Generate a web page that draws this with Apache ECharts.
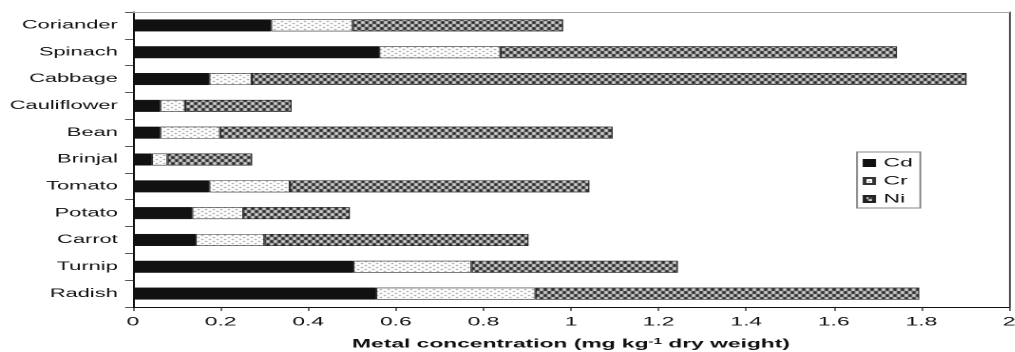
<!DOCTYPE html>
<html><head><meta charset="utf-8">
<script src="https://cdn.jsdelivr.net/npm/echarts@6/dist/echarts.min.js"></script>
<style>
html,body{margin:0;padding:0;background:#fff;overflow:hidden}
#wrap{width:1015px;height:352px;overflow:hidden;position:relative}
#chart{height:352px;transform-origin:0 0;position:absolute;left:0;top:0}
</style></head>
<body><div id="wrap"><div id="chart"></div></div>
<script>
// ---- data ----
const categories = ['Coriander','Spinach','Cabbage','Cauliflower','Bean','Brinjal','Tomato','Potato','Carrot','Turnip','Radish'];
const cdValues = [0.315, 0.562, 0.174, 0.062, 0.062, 0.043, 0.174, 0.135, 0.143, 0.503, 0.555];
const crValues = [0.187, 0.277, 0.097, 0.057, 0.137, 0.036, 0.184, 0.117, 0.157, 0.270, 0.364];
const niValues = [0.480, 0.905, 1.632, 0.243, 0.896, 0.193, 0.684, 0.243, 0.603, 0.471, 0.876];
const seriesNames = ['Cd','Cr','Ni'];
const xTickLabels = ['0','0.2','0.4','0.6','0.8','1','1.2','1.4','1.6','1.8','2'];

// ---- horizontal stretch to mimic the reference's wide glyphs ----
const K = 1.9;
const W = 1015 / K;
const el = document.getElementById('chart');
el.style.width = W + 'px';
el.style.transform = 'scaleX(' + K + ')';

function makeTile(w, h, draw) {
  const c = document.createElement('canvas');
  c.width = w; c.height = h;
  draw(c.getContext('2d'));
  return c;
}
const niTile = makeTile(4, 6, ctx => {
  ctx.fillStyle = '#2c2c2c'; ctx.fillRect(0, 0, 4, 6);
  ctx.fillStyle = '#d0d0d0'; ctx.fillRect(0, 0, 2, 3); ctx.fillRect(2, 3, 2, 3);
});
const crTile = makeTile(4, 4, ctx => {
  ctx.fillStyle = '#ffffff'; ctx.fillRect(0, 0, 4, 4);
  ctx.fillStyle = '#7a7a7a'; ctx.fillRect(0, 1, 1, 1); ctx.fillRect(2, 3, 1, 1);
});

const chart = echarts.init(el, null, {renderer: 'canvas', devicePixelRatio: 2, width: W, height: 352});
const font = "'Liberation Sans', Arial, sans-serif";

chart.setOption({
  animation: false,
  backgroundColor: '#fff',
  textStyle: {fontFamily: font},
  grid: {left: 133 / K, right: 6 / K, top: 12, bottom: 45, containLabel: false, outerBoundsMode: 'none'},
  legend: {
    orient: 'vertical',
    left: 857 / K, top: 152,
    data: seriesNames,
    icon: 'rect',
    itemWidth: 5, itemHeight: 6, itemGap: 4,
    padding: [4, 4, 2, 3],
    borderColor: '#888', borderWidth: 1,
    textStyle: {fontFamily: font, fontSize: 12, color: '#111', lineHeight: 14}
  },
  xAxis: [{
    type: 'value', min: 0, max: 2, interval: 0.2,
    splitLine: {show: false},
    axisLine: {show: true, lineStyle: {color: '#111', width: 1}},
    axisTick: {show: true, length: 4, lineStyle: {color: '#111', width: 0.6}},
    axisLabel: {margin: 9, fontSize: 12, color: '#111', fontFamily: font,
      formatter: v => xTickLabels[Math.round(v / 0.2)]},
    name: 'Metal concentration (mg kg{sup|-1} dry weight)',
    nameLocation: 'middle', nameGap: 31,
    nameTextStyle: {fontSize: 12, fontWeight: 'bold', color: '#111', fontFamily: font,
      rich: {sup: {fontSize: 8, fontWeight: 'bold', color: '#111', verticalAlign: 'top', fontFamily: font}}}
  }, {
    type: 'value', min: 0, max: 2, position: 'top',
    axisLine: {show: true, onZero: false, lineStyle: {color: '#a8a8a8', width: 1}},
    axisTick: {show: false}, axisLabel: {show: false}, splitLine: {show: false}
  }],
  yAxis: [{
    type: 'category', inverse: true, data: categories,
    axisLine: {show: true, lineStyle: {color: '#111', width: 1}},
    axisTick: {show: true, length: 4.2, lineStyle: {color: '#555', width: 1}},
    axisLabel: {margin: 8, fontSize: 11.5, color: '#111', fontFamily: font}
  }, {
    type: 'category', inverse: true, data: categories, position: 'right',
    axisLine: {show: true, onZero: false, lineStyle: {color: '#222', width: 0.8}},
    axisTick: {show: false}, axisLabel: {show: false}
  }],
  series: [
    {name: 'Cd', type: 'bar', stack: 'total', barWidth: 12, data: cdValues,
      itemStyle: {color: '#111', borderColor: '#111', borderWidth: 0.5}},
    {name: 'Cr', type: 'bar', stack: 'total', barWidth: 12, data: crValues,
      itemStyle: {color: {image: crTile, repeat: 'repeat'}, borderColor: '#333', borderWidth: 0.6}},
    {name: 'Ni', type: 'bar', stack: 'total', barWidth: 12, data: niValues,
      itemStyle: {color: {image: niTile, repeat: 'repeat'}, borderColor: '#222', borderWidth: 0.6}}
  ]
});
</script>
</body></html>
